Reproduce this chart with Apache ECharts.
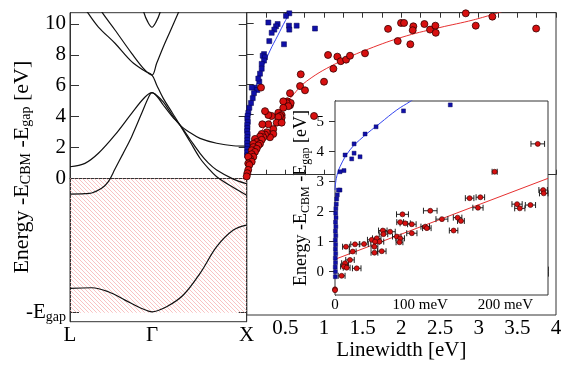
<!DOCTYPE html>
<html>
<head>
<meta charset="utf-8">
<script src="https://cdn.jsdelivr.net/npm/echarts@6/dist/echarts.min.js"></script>
<style>
  html, body { margin: 0; padding: 0; background: #fff; }
  #chart { width: 567px; height: 366px; }
</style>
</head>
<body>
<div id="chart"></div>
<script>
// band structure panel: k path L -> Gamma -> X (L = 0, Gamma = 0.866, X = 1.866)
const kTicks = [0, 0.866, 1.866]
const kLabels = ['L', '\u0393', 'X']
const energyTicks = [-8.71, 0, 2, 4, 6, 8, 10]

const band1 = [[0, -7.13], [0.229, -7.09], [0.405, -7.35], [0.581, -7.89], [0.757, -8.43], [0.866, -8.65],
  [1.02, -8.32], [1.197, -7.56], [1.373, -6.16], [1.549, -4.43], [1.725, -3.35], [1.866, -3.03]]
const band2 = [[0, -1.02], [0.158, -0.99], [0.229, -0.95], [0.334, -0.65], [0.405, -0.22], [0.475, 0.6],
  [0.56, 1.6], [0.651, 2.7], [0.757, 4.21], [0.83, 5.25], [0.866, 5.55], [0.92, 5.35], [0.985, 4.95],
  [1.08, 4.1], [1.162, 3.45], [1.27, 2.95], [1.373, 2.59], [1.549, 2.27], [1.725, 2.11], [1.866, 2.09]]
const band3 = [[0, 0.75], [0.158, 0.97], [0.3, 1.62], [0.475, 2.81], [0.651, 4.21], [0.79, 5.25], [0.866, 5.55],
  [0.92, 5.3], [0.985, 4.75], [1.08, 4.0], [1.162, 3.45], [1.27, 2.5], [1.373, 1.62], [1.46, 1.0],
  [1.549, 0.54], [1.725, -0.05], [1.866, -0.35]]
const band4 = [[0.16, 11.0], [0.187, 10.73], [0.3, 9.8], [0.475, 8.75], [0.651, 7.56], [0.79, 6.95], [0.866, 6.69],
  [0.915, 6.05], [0.985, 5.18], [1.08, 4.25], [1.162, 3.45], [1.27, 2.35], [1.373, 1.3], [1.46, 0.65],
  [1.549, 0.1], [1.725, -0.6], [1.866, -1.1]]
const band5 = [[0.32, 11.0], [0.341, 10.73], [0.475, 9.61], [0.651, 8.1], [0.79, 7.02], [0.866, 6.69],
  [0.915, 7.45], [0.986, 8.53], [1.056, 9.5], [1.144, 10.73], [1.17, 11.1]]
const band6 = [[0.772, 11.1], [0.781, 10.73], [0.82, 10.15], [0.866, 9.79], [0.91, 10.15], [0.95, 10.73], [0.959, 11.1]]

// linewidth panel (eV)
const mainBlue = [[0.551, 10.69], [0.508, 10.52], [0.28, 10.08], [0.40, 9.98], [0.379, 9.83], [0.357, 9.61],
  [0.323, 9.4], [0.547, 9.87], [0.551, 9.61], [0.646, 9.87], [0.883, 9.68], [0.482, 8.64], [0.292, 8.85],
  [0.224, 7.99], [0.207, 7.88], [0.237, 7.78], [0.224, 7.56], [0.194, 7.34], [0.194, 7.02], [0.172, 6.69],
  [0.163, 6.16], [0.15, 6.37], [0.107, 5.77], [0.065, 5.77], [0.137, 5.61], [0.094, 5.4], [0.078, 5.07],
  [0.056, 4.75], [0.034, 4.43], [0.021, 4.1], [0.012, 3.9], [0.008, 3.7], [0.015, 3.5], [0.006, 3.3],
  [0.01, 3.1], [0.004, 2.9], [0.012, 2.7], [0.007, 2.5], [0.009, 2.3], [0.005, 2.1], [0.011, 1.9],
  [0.006, 1.7], [0.008, 1.5], [0.004, 1.3]]
const mainRed = [[2.833, 10.69], [3.177, 10.47], [2.962, 9.87], [3.743, 9.68], [1.996, 10.05], [2.035, 10.05],
  [1.828, 9.66], [2.155, 9.83], [2.147, 9.57], [2.298, 9.98], [2.371, 9.61], [2.44, 9.87], [2.445, 9.4],
  [1.953, 8.85], [2.116, 8.64], [1.052, 7.93], [1.172, 7.82], [1.216, 7.52], [1.285, 7.62], [1.336, 7.88],
  [1.53, 8.04], [1.121, 7.02], [0.699, 6.65], [1.0, 6.16], [0.69, 5.87], [0.754, 5.59], [0.56, 5.4],
  [0.526, 4.86], [0.56, 4.6], [0.871, 3.89], [0.569, 4.75], [0.517, 4.75], [0.473, 4.86], [0.538, 4.54],
  [0.473, 4.43], [0.409, 4.1], [0.452, 3.95], [0.452, 3.78], [0.431, 3.89], [0.409, 3.82], [0.388, 3.45],
  [0.452, 3.45], [0.323, 3.89], [0.28, 3.95], [0.237, 4.21], [0.185, 5.77], [0.344, 3.02], [0.344, 2.7],
  [0.301, 2.48], [0.28, 3.34], [0.202, 3.34], [0.259, 2.81], [0.237, 2.66], [0.194, 2.7], [0.215, 2.48],
  [0.172, 2.53], [0.194, 2.31], [0.107, 2.37], [0.129, 2.16], [0.172, 2.05], [0.086, 2.05], [0.15, 1.94],
  [0.086, 1.83], [0.129, 1.72], [0.065, 1.62], [0.107, 1.51], [0.065, 1.36], [0.086, 1.19], [0.043, 1.07],
  [0.02, 1.19], [0.065, 0.86], [0.02, 0.75], [0.034, 0.65], [0.02, 0.32], [0.008, 0.1], [0.0, -0.11]]
const blueFitMain = [[0.0, 3.0], [0.02, 3.9], [0.1, 5.5], [0.2, 7.0], [0.3, 8.2], [0.4, 9.2], [0.5, 10.2], [0.57, 10.8]]
const redFitMain = [[0.0, 0.2], [0.05, 1.3], [0.1, 2.1], [0.194, 2.92], [0.33, 3.75], [0.56, 5.05], [0.776, 6.2],
  [1.207, 7.5], [1.638, 8.45], [2.07, 9.2], [2.5, 9.75], [2.93, 10.25], [3.3, 10.8]]

// inset (meV)
const insetBlue = [[80.4, 5.36], [135.3, 5.56], [48.2, 4.83], [35.3, 4.59], [22.4, 4.26], [11.8, 3.89],
  [22.4, 3.95], [19.6, 3.76], [29.4, 3.83], [10.6, 3.37], [5.9, 3.33], [5.9, 2.72], [4, 2.72], [2.7, 2.56],
  [2, 2.42], [1.5, 2.25], [1, 2.1], [0.8, 1.95], [1.2, 1.8], [0.6, 1.65], [1, 1.5], [0.5, 1.35], [0.9, 1.2],
  [0.4, 1.05], [0.7, 0.9], [0.5, 0.75], [0.8, 0.6], [0.4, 0.45], [0.6, 0.3], [0.3, 0.15], [0.5, 0.0], [0.4, -0.17]]
// [meV, energy, half error]
const insetRed = [[238, 4.26, 8], [187.4, 3.33, 3], [244.3, 2.72, 5], [245, 2.61, 5], [158, 2.45, 5],
  [170.6, 2.48, 5], [167.8, 2.13, 6], [213.7, 2.25, 6], [216.9, 2.11, 6], [229.4, 2.22, 6], [111.8, 2.03, 8],
  [79.2, 1.91, 7], [125.5, 1.75, 7], [143.9, 1.8, 5], [147.8, 1.69, 4], [76.5, 1.65, 4], [82.4, 1.61, 6],
  [90.2, 1.58, 5], [105.9, 1.5, 5], [107.8, 1.45, 5], [139.2, 1.37, 5], [56.1, 1.37, 5], [64.7, 1.33, 6],
  [56.9, 1.25, 5], [90.2, 1.28, 6], [72.5, 1.17, 5], [76.5, 1.11, 5], [75.7, 0.98, 4], [49, 1.11, 5],
  [43.1, 1.06, 5], [52.2, 1.0, 5], [47, 1.0, 5], [46.3, 0.83, 4], [34.1, 0.92, 5], [23.5, 0.91, 5],
  [12.9, 0.83, 4], [46.3, 0.63, 4], [54.9, 0.68, 5], [20.8, 0.67, 4], [17.6, 0.39, 5], [11.8, 0.28, 4],
  [10.6, 0.17, 4], [13.7, 0.13, 4], [25.5, 0.11, 5], [7.8, -0.14, 4], [0, -0.59, 0], [0, -0.62, 0]]
const blueFitInset = [[0, 2.72], [1.5, 3.1], [5.9, 3.5], [17.6, 4.06], [33.3, 4.5], [52.9, 4.95], [72.5, 5.39], [88, 5.67], [92, 5.75]]
const redFitInset = [[0, 0.41], [250, 3.11]]

const FONT = 'Liberation Serif'
const AXIS = '#333'

// diagonal red hatching for the valence region
const hatch = document.createElement('canvas')
hatch.width = 4
hatch.height = 4
const hctx = hatch.getContext('2d')
hctx.strokeStyle = '#f6b4b4'
hctx.lineWidth = 0.8
hctx.beginPath()
hctx.moveTo(-1, -1); hctx.lineTo(5, 5)
hctx.moveTo(-1, 3); hctx.lineTo(1, 5)
hctx.moveTo(3, -1); hctx.lineTo(5, 1)
hctx.stroke()

const subRich = {
  sub: { fontFamily: FONT, fontSize: 14, lineHeight: 14, padding: [9, 0, 0, 0], color: '#000' },
  txt: { fontFamily: FONT, fontSize: 22, lineHeight: 22, color: '#000' }
}
const tickRich = {
  sub: { fontFamily: FONT, fontSize: 14, lineHeight: 14, padding: [9, 0, 0, 0], color: '#000' },
  txt: { fontFamily: FONT, fontSize: 21, lineHeight: 22, color: '#000' }
}
const subRichSmall = {
  sub: { fontFamily: FONT, fontSize: 12, lineHeight: 12, padding: [8, 0, 0, 0], color: '#000' },
  txt: { fontFamily: FONT, fontSize: 18, lineHeight: 19, color: '#000' }
}

const bandLine = (data) => ({
  type: 'line', xAxisIndex: 0, yAxisIndex: 0, data: data, smooth: 0.35, showSymbol: false,
  lineStyle: { color: '#111', width: 1.2 }, silent: true, z: 3
})

const chart = echarts.init(document.getElementById('chart'))
chart.setOption({
  backgroundColor: '#fff',
  animation: false,
  grid: [
    { left: 70, top: 12.7, width: 176.7, height: 309, show: true, borderColor: AXIS, borderWidth: 1 },
    { left: 246.7, top: 12.7, width: 309.3, height: 309, show: true, borderColor: AXIS, borderWidth: 1 },
    { left: 335, top: 101, width: 213, height: 194, show: true, borderColor: AXIS, borderWidth: 1, backgroundColor: '#fff', z: 5 }
  ],
  xAxis: [
    {
      gridIndex: 0, type: 'value', min: 0, max: 1.866,
      axisLine: { lineStyle: { color: AXIS } }, axisTick: { show: false }, splitLine: { show: false },
      axisLabel: {
        customValues: kTicks, margin: 3, fontFamily: FONT, fontSize: 21, color: '#000',
        formatter: (v) => kLabels[kTicks.indexOf(v)]
      }
    },
    {
      gridIndex: 1, type: 'value', min: 0, max: 4, interval: 0.25,
      axisLine: { lineStyle: { color: AXIS } }, splitLine: { show: false },
      axisTick: { inside: true, length: 5, lineStyle: { color: AXIS } },
      axisLabel: {
        margin: 3, fontFamily: FONT, fontSize: 21, color: '#000',
        formatter: (v) => (v > 0 && v % 0.5 === 0) ? String(v) : ''
      },
      name: 'Linewidth [eV]', nameLocation: 'middle', nameGap: 25, nameMoveOverlap: false,
      nameTextStyle: { fontFamily: FONT, fontSize: 21, color: '#000' }
    },
    {
      gridIndex: 1, type: 'value', position: 'top', min: 0, max: 4, interval: 0.25,
      axisLine: { lineStyle: { color: AXIS } }, splitLine: { show: false },
      axisTick: { inside: true, length: 5, lineStyle: { color: AXIS } }, axisLabel: { show: false }
    },
    {
      gridIndex: 2, type: 'value', min: 0, max: 250, interval: 50,
      axisLine: { lineStyle: { color: AXIS } }, splitLine: { show: false },
      axisTick: { inside: true, length: 5, lineStyle: { color: AXIS } },
      axisLabel: {
        margin: 3, fontFamily: FONT, fontSize: 15, color: '#000',
        formatter: (v) => v === 0 ? '0' : (v % 100 === 0 ? v + ' meV' : '')
      }
    },
    {
      gridIndex: 2, type: 'value', position: 'top', min: 0, max: 250, interval: 50,
      axisLine: { lineStyle: { color: AXIS } }, splitLine: { show: false },
      axisTick: { inside: true, length: 5, lineStyle: { color: AXIS } }, axisLabel: { show: false }
    }
  ],
  yAxis: [
    {
      gridIndex: 0, type: 'value', min: -9.29, max: 10.73,
      axisLine: { lineStyle: { color: AXIS } }, splitLine: { show: false },
      axisTick: { inside: true, length: 9, customValues: energyTicks, lineStyle: { color: AXIS } },
      axisLabel: {
        customValues: energyTicks, margin: 4, fontFamily: FONT, fontSize: 21, color: '#000',
        formatter: (v) => v < -1 ? '{txt|-E}{sub|gap}' : '{txt|' + v + '}',
        rich: tickRich
      },
      name: '{txt|Energy -E}{sub|CBM}{txt| -E}{sub|gap}{txt| [eV]}', nameLocation: 'middle', nameRotate: 90,
      nameGap: 37, nameMoveOverlap: false,
      nameTextStyle: { rich: subRich }
    },
    {
      gridIndex: 0, type: 'value', position: 'right', min: -9.29, max: 10.73,
      axisLine: { lineStyle: { color: AXIS } }, splitLine: { show: false },
      axisTick: { inside: true, length: 8, customValues: energyTicks, lineStyle: { color: AXIS } },
      axisLabel: { show: false }
    },
    {
      gridIndex: 1, type: 'value', min: -9.29, max: 10.73,
      axisLine: { lineStyle: { color: AXIS } }, splitLine: { show: false },
      axisTick: { inside: true, length: 7, customValues: [0, 2, 4, 6, 8, 10], lineStyle: { color: AXIS } },
      axisLabel: { show: false }
    },
    {
      gridIndex: 2, type: 'value', min: -0.78, max: 5.69,
      axisLine: { lineStyle: { color: AXIS } }, splitLine: { show: false },
      axisTick: { inside: true, length: 6, customValues: [0, 1, 2, 3, 4, 5], lineStyle: { color: AXIS } },
      axisLabel: { customValues: [0, 1, 2, 3, 4, 5], margin: 11, fontFamily: FONT, fontSize: 15, color: '#000' },
      name: '{txt|Energy -E}{sub|CBM}{txt| -E}{sub|gap}{txt| [eV]}', nameLocation: 'middle', nameRotate: 90,
      nameGap: 24, nameMoveOverlap: false,
      nameTextStyle: { rich: subRichSmall }
    },
    {
      gridIndex: 2, type: 'value', position: 'right', min: -0.78, max: 5.69,
      axisLine: { lineStyle: { color: AXIS } }, splitLine: { show: false },
      axisTick: { inside: true, length: 6, customValues: [0, 1, 2, 3, 4, 5], lineStyle: { color: AXIS } },
      axisLabel: { show: false }
    }
  ],
  series: [
    {
      type: 'line', xAxisIndex: 0, yAxisIndex: 0, data: [], silent: true,
      markArea: {
        silent: true,
        itemStyle: { color: { image: hatch, repeat: 'repeat' } },
        data: [[{ xAxis: 0, yAxis: energyTicks[0] }, { xAxis: kTicks[2], yAxis: 0 }]]
      }
    },
    bandLine(band1), bandLine(band2), bandLine(band3), bandLine(band4), bandLine(band5), bandLine(band6),
    {
      type: 'line', xAxisIndex: 1, yAxisIndex: 2, data: blueFitMain, smooth: 0.4, showSymbol: false,
      lineStyle: { color: '#3344ee', width: 1 }, z: 2
    },
    {
      type: 'line', xAxisIndex: 1, yAxisIndex: 2, data: redFitMain, smooth: 0.4, showSymbol: false,
      lineStyle: { color: '#e63030', width: 1 }, z: 2
    },
    {
      type: 'scatter', xAxisIndex: 1, yAxisIndex: 2, data: mainBlue, symbol: 'rect', symbolSize: 5,
      itemStyle: { color: '#1010a8', borderColor: '#000050', borderWidth: 0.5, opacity: 1 }, z: 3
    },
    {
      type: 'scatter', xAxisIndex: 1, yAxisIndex: 2, data: mainRed, symbol: 'circle', symbolSize: 7,
      itemStyle: { color: '#d81010', borderColor: '#300', borderWidth: 0.8, opacity: 1 }, z: 4
    },
    {
      type: 'line', xAxisIndex: 3, yAxisIndex: 3, data: blueFitInset, smooth: 0.4, showSymbol: false,
      lineStyle: { color: '#3344ee', width: 1 }, z: 6
    },
    {
      type: 'line', xAxisIndex: 3, yAxisIndex: 3, data: redFitInset, showSymbol: false,
      lineStyle: { color: '#e63030', width: 1 }, z: 6
    },
    {
      type: 'custom', xAxisIndex: 3, yAxisIndex: 3, data: insetRed, encode: { x: 0, y: 1 }, z: 7, silent: true,
      renderItem: (params, api) => {
        const x = api.value(0), y = api.value(1), e = api.value(2)
        if (!e) return null
        const a = api.coord([x - e, y]), b = api.coord([x + e, y])
        const st = { stroke: '#222', lineWidth: 1 }
        return {
          type: 'group', children: [
            { type: 'line', shape: { x1: a[0], y1: a[1], x2: b[0], y2: b[1] }, style: st },
            { type: 'line', shape: { x1: a[0], y1: a[1] - 3, x2: a[0], y2: a[1] + 3 }, style: st },
            { type: 'line', shape: { x1: b[0], y1: b[1] - 3, x2: b[0], y2: b[1] + 3 }, style: st }
          ]
        }
      }
    },
    {
      type: 'scatter', xAxisIndex: 3, yAxisIndex: 3, data: insetBlue, symbol: 'rect', symbolSize: 4,
      itemStyle: { color: '#1010a8', borderColor: '#000050', borderWidth: 0.4, opacity: 1 }, z: 8
    },
    {
      type: 'scatter', xAxisIndex: 3, yAxisIndex: 3, data: insetRed, symbol: 'circle', symbolSize: 5,
      itemStyle: { color: '#d81010', borderColor: '#300', borderWidth: 0.6, opacity: 1 }, z: 9
    }
  ]
})
</script>
</body>
</html>
